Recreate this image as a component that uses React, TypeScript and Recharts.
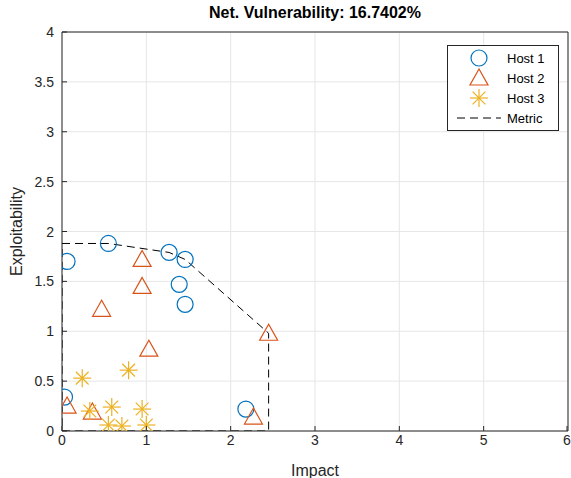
import { ScatterChart, Scatter, XAxis, YAxis, CartesianGrid, ReferenceLine, Label } from 'recharts'

const title = 'Net. Vulnerability: 16.7402%'
const xTicks = [0, 1, 2, 3, 4, 5, 6]
const yTicks = [0, 0.5, 1, 1.5, 2, 2.5, 3, 3.5, 4]

const host1X = [0.06, 0.55, 1.27, 1.46, 1.39, 1.46, 0.03, 2.18]
const host1Y = [1.7, 1.88, 1.79, 1.72, 1.47, 1.27, 0.34, 0.22]

const host2X = [0.95, 0.95, 0.47, 1.03, 2.45, 0.06, 0.36, 2.27]
const host2Y = [1.72, 1.45, 1.22, 0.82, 0.98, 0.25, 0.19, 0.14]

const host3X = [0.24, 0.79, 0.33, 0.59, 0.95, 0.55, 0.71, 1.0]
const host3Y = [0.53, 0.61, 0.2, 0.24, 0.22, 0.06, 0.05, 0.06]

// hull outline, drawn in order
const metricX = [0, 0.55, 1.27, 1.46, 2.45, 2.45, 0, 0]
const metricY = [1.88, 1.88, 1.79, 1.72, 0.98, 0, 0, 1.88]

const zip = (xs: number[], ys: number[]) => xs.map((x, i) => ({ x, y: ys[i] }))

const BLUE = '#0072BD'
const ORANGE = '#D95319'
const YELLOW = '#EDB120'
const AXIS = '#262626'
const FONT = '"Liberation Sans", Arial, Helvetica, sans-serif'

const Circle = (p: any) => <circle cx={p.cx} cy={p.cy} r={8} fill="none" stroke={BLUE} strokeWidth={1.2} />

const Tri = (p: any) => (
  <polygon
    points={`${p.cx},${p.cy - 9} ${p.cx - 9},${p.cy + 7} ${p.cx + 9},${p.cy + 7}`}
    fill="none"
    stroke={ORANGE}
    strokeWidth={1.2}
  />
)

const Star = (p: any) => {
  const r = 9
  const d = r * 0.707
  return (
    <g stroke={YELLOW} strokeWidth={1.2}>
      <line x1={p.cx - r} y1={p.cy} x2={p.cx + r} y2={p.cy} />
      <line x1={p.cx} y1={p.cy - r} x2={p.cx} y2={p.cy + r} />
      <line x1={p.cx - d} y1={p.cy - d} x2={p.cx + d} y2={p.cy + d} />
      <line x1={p.cx - d} y1={p.cy + d} x2={p.cx + d} y2={p.cy - d} />
    </g>
  )
}

const XTick = (p: any) => (
  <g>
    <line x1={p.x} y1={431} x2={p.x} y2={426} stroke={AXIS} />
    <text x={p.x} y={p.y + 12} textAnchor="middle" fill={AXIS} fontSize={14} fontFamily={FONT}>
      {p.payload.value}
    </text>
  </g>
)

const YTick = (p: any) => (
  <g>
    <line x1={62} y1={p.y} x2={67} y2={p.y} stroke={AXIS} />
    <text x={p.x} y={p.y + 5} textAnchor="end" fill={AXIS} fontSize={14} fontFamily={FONT}>
      {p.payload.value}
    </text>
  </g>
)

const legendItems = [
  { name: 'Host 1', kind: 'circle' },
  { name: 'Host 2', kind: 'tri' },
  { name: 'Host 3', kind: 'star' },
  { name: 'Metric', kind: 'line' },
]

function LegendBox() {
  return (
    <svg width={112} height={86} style={{ position: 'absolute', left: 447, top: 45 }}>
      <rect x={0.5} y={0.5} width={111} height={85} fill="#fff" stroke={AXIS} />
      {legendItems.map((it, i) => {
        const cy = 13 + i * 20
        const cx = 32
        return (
          <g key={it.name}>
            {it.kind === 'circle' && <Circle cx={cx} cy={cy} />}
            {it.kind === 'tri' && <Tri cx={cx} cy={cy} />}
            {it.kind === 'star' && <Star cx={cx} cy={cy} />}
            {it.kind === 'line' && (
              <line x1={10} y1={cy} x2={54} y2={cy} stroke="#000" strokeDasharray="8 5" />
            )}
            <text x={60} y={cy + 5} fontSize={13} fontFamily={FONT} fill="#000">
              {it.name}
            </text>
          </g>
        )
      })}
    </svg>
  )
}

export default function App() {
  return (
    <div style={{ position: 'absolute', left: 0, top: 0, width: 571, height: 478, background: '#fff', fontFamily: FONT }}>
      <div
        style={{
          position: 'absolute',
          left: 62,
          width: 506,
          top: 4,
          textAlign: 'center',
          fontWeight: 'bold',
          fontSize: 16,
          color: '#000',
        }}
      >
        {title}
      </div>
      <ScatterChart width={571} height={478} margin={{ top: 32, right: 3, left: 0, bottom: 0 }}>
        <CartesianGrid stroke="#e6e6e6" strokeWidth={1} />
        <XAxis
          type="number"
          dataKey="x"
          domain={[0, 6]}
          ticks={xTicks}
          height={47}
          tickSize={0}
          tickLine={false}
          tick={<XTick />}
          stroke={AXIS}
          allowDataOverflow
        >
          <Label value="Impact" position="insideBottom" offset={2} fill={AXIS} fontSize={16} fontFamily={FONT} />
        </XAxis>
        <YAxis
          type="number"
          dataKey="y"
          domain={[0, 4]}
          ticks={yTicks}
          width={62}
          tickSize={0}
          tickMargin={8}
          tickLine={false}
          tick={<YTick />}
          stroke={AXIS}
          allowDataOverflow
        >
          <Label value="Exploitability" angle={-90} position="insideLeft" offset={16} fill={AXIS} fontSize={16} fontFamily={FONT} style={{ textAnchor: 'middle' }} />
        </YAxis>
        <ReferenceLine y={4} stroke={AXIS} />
        <ReferenceLine x={6} stroke={AXIS} />
        <Scatter
          data={zip(metricX, metricY)}
          line={{ stroke: '#000', strokeWidth: 1, strokeDasharray: '8 5' }}
          shape={() => <g />}
          isAnimationActive={false}
        />
        <Scatter data={zip(host1X, host1Y)} shape={<Circle />} isAnimationActive={false} />
        <Scatter data={zip(host2X, host2Y)} shape={<Tri />} isAnimationActive={false} />
        <Scatter data={zip(host3X, host3Y)} shape={<Star />} isAnimationActive={false} />
      </ScatterChart>
      <LegendBox />
    </div>
  )
}
